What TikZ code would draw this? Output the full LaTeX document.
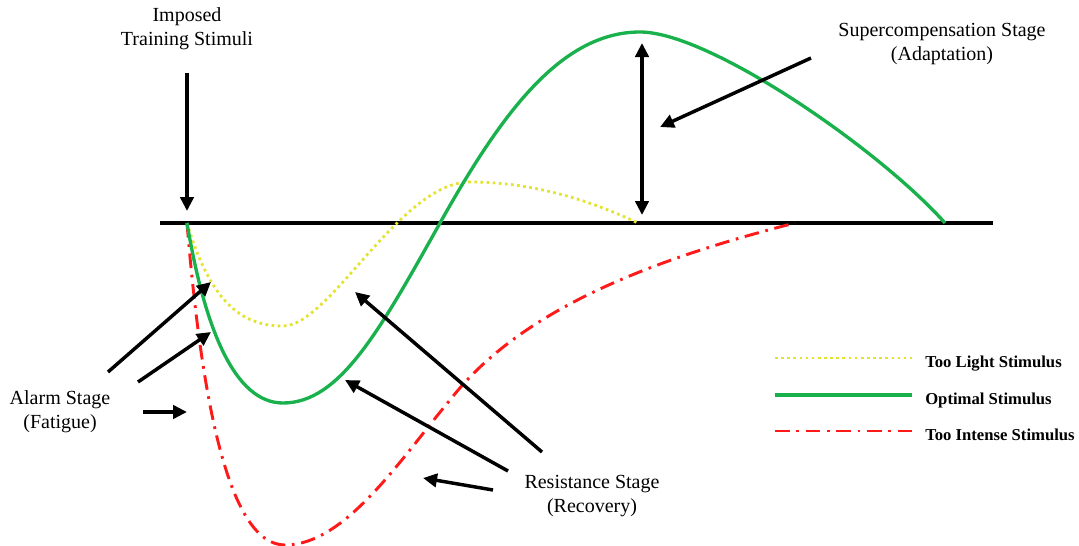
\documentclass[tikz,border=0pt]{standalone}
\usepackage{fontspec}
\setmainfont{Liberation Serif}
\usepackage{xcolor}
\usepackage{tikz}
\usetikzlibrary{arrows.meta}
\definecolor{lightyellow}{HTML}{E3E32E}
\definecolor{optgreen}{HTML}{19B14C}
\definecolor{intensered}{HTML}{FF1A1A}

\begin{document}
\begin{tikzpicture}[
  x=0.75pt, y=-0.75pt,
  stage/.style={align=center, inner sep=0pt, font=\fontsize{15}{18}\selectfont},
  legendtext/.style={anchor=base west, inner sep=0pt, font=\fontsize{12.5}{14}\selectfont\bfseries},
  pointer/.style={-{Triangle[length=10.5pt,width=10pt]}, line width=2.6pt},
  twoway/.style={{Triangle[length=10.5pt,width=10pt]}-{Triangle[length=10.5pt,width=10pt]}, line width=2.6pt},
  zeroline/.style={line width=2.3pt},
  toolight/.style={draw=lightyellow, line width=2.1pt, dash pattern=on 2pt off 2.6pt},
  optimal/.style={draw=optgreen, line width=2.5pt},
  toointense/.style={draw=intensered, line width=2.2pt, dash pattern=on 11pt off 5pt on 2pt off 5pt}
]
\useasboundingbox (0,0) rectangle (1079,546);

\node[stage] (imposed) at (187,29) {Imposed\\Training Stimuli};
\node[stage] (super) at (942,44) {Supercompensation Stage\\(Adaptation)};
\node[stage] (alarm) at (60,412) {Alarm Stage\\(Fatigue)};
\node[stage] (resist) at (592,496) {Resistance Stage\\(Recovery)};

\coordinate (origin) at (187,223);
\draw[zeroline] (160,223) -- (993,223);

\draw[toolight] (origin) .. controls (210,300) and (240,326) .. (283,326)
  .. controls (330,326) and (400,182) .. (470,182)
  .. controls (540,182) and (600,205) .. (638,223);
\draw[toointense] (origin) .. controls (200,380) and (225,545) .. (285,545)
  .. controls (345,545) and (400,460) .. (450,400)
  .. controls (520,310) and (650,260) .. (795,223);
\draw[optimal] (origin) .. controls (205,330) and (235,403) .. (283,403)
  .. controls (340,403) and (380,330) .. (440,223)
  .. controls (500,116) and (560,32) .. (640,32)
  .. controls (710,32) and (880,150) .. (945,223);

\coordinate (imp-a) at (187,73);
\coordinate (imp-b) at (187,211);
\coordinate (sup-top) at (642,43);
\coordinate (sup-bot) at (642,215);
\coordinate (sup-a) at (811,58);
\coordinate (sup-b) at (660,127);
\coordinate (al1-a) at (108,372);
\coordinate (al1-b) at (211,282);
\coordinate (al2-a) at (138,382);
\coordinate (al2-b) at (211,332);
\coordinate (al3-a) at (143,412);
\coordinate (al3-b) at (187,412);
\coordinate (re1-a) at (542,452);
\coordinate (re1-b) at (355,292);
\coordinate (re2-a) at (508,471);
\coordinate (re2-b) at (345,380);
\coordinate (re3-a) at (493,490);
\coordinate (re3-b) at (423,478);

\draw[pointer] (imp-a) -- (imp-b);
\draw[twoway] (sup-top) -- (sup-bot);
\draw[pointer] (sup-a) -- (sup-b);
\draw[pointer] (al1-a) -- (al1-b);
\draw[pointer] (al2-a) -- (al2-b);
\draw[pointer] (al3-a) -- (al3-b);
\draw[pointer] (re1-a) -- (re1-b);
\draw[pointer] (re2-a) -- (re2-b);
\draw[pointer] (re3-a) -- (re3-b);

\draw[toolight] (775,358) -- (912,358);
\draw[optimal] (775,395) -- (912,395);
\draw[toointense] (775,431) -- (912,431);
\node[legendtext] (lightkey) at (925,367) {Too Light Stimulus};
\node[legendtext] (optkey) at (925,404) {Optimal Stimulus};
\node[legendtext] (intensekey) at (925,440) {Too Intense Stimulus};

\end{tikzpicture}
\end{document}
